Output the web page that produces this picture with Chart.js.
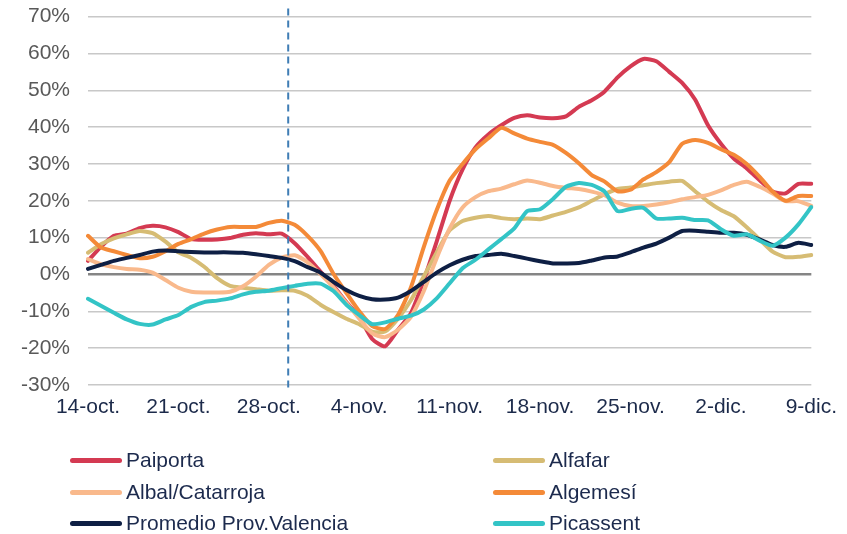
<!DOCTYPE html>
<html><head><meta charset="utf-8">
<script src="https://cdn.jsdelivr.net/npm/chart.js@4.4.1/dist/chart.umd.min.js"></script>
<style>
html,body{margin:0;padding:0;background:#fff;width:847px;height:534px;overflow:hidden;font-family:"Liberation Sans",Arial,sans-serif}
#wrap{position:absolute;left:0;top:-14px;width:847px;height:444px}
#legend{position:absolute;left:0;top:0;width:847px;height:534px;pointer-events:none}
.item{position:absolute;display:flex;align-items:center;font-size:21px;color:#1c2a4d;white-space:nowrap;height:26px;line-height:26px}
.swatch{display:inline-block;width:52px;height:5px;border-radius:3px;margin-right:4px}
</style></head>
<body>
<div id="wrap"><canvas id="c" width="847" height="444"></canvas></div>
<div id="legend"></div>
<script>
const categories = [
 "14-oct.","15-oct.","16-oct.","17-oct.","18-oct.","19-oct.","20-oct.","21-oct.","22-oct.","23-oct.",
 "24-oct.","25-oct.","26-oct.","27-oct.","28-oct.","29-oct.","30-oct.","31-oct.","1-nov.","2-nov.",
 "3-nov.","4-nov.","5-nov.","6-nov.","7-nov.","8-nov.","9-nov.","10-nov.","11-nov.","12-nov.",
 "13-nov.","14-nov.","15-nov.","16-nov.","17-nov.","18-nov.","19-nov.","20-nov.","21-nov.","22-nov.",
 "23-nov.","24-nov.","25-nov.","26-nov.","27-nov.","28-nov.","29-nov.","30-nov.","1-dic.","2-dic.",
 "3-dic.","4-dic.","5-dic.","6-dic.","7-dic.","8-dic.","9-dic."
];
const paiporta = [3.7,7.5,10.5,11.1,12.6,13.2,12.8,11.5,9.6,9.4,9.5,9.9,10.8,11.2,10.9,11.1,8.5,4.8,0.8,-3.1,-7.5,-11.5,-17.5,-19.5,-15,-10.5,-1.5,9,20,28.5,34.5,38,40.5,42.5,43.2,42.6,42.4,42.9,45.5,47.3,49.7,53.5,56.5,58.5,57.9,55,52,47.5,40.5,35.5,31.5,28.8,25.6,22.5,22,24.6,24.6];
const alfafar = [5.9,8.2,9.8,10.9,11.8,11.2,8.9,6.0,4.5,2.1,-1.0,-3.1,-3.6,-4.0,-4.4,-4.3,-4.4,-5.8,-8.2,-10.2,-12,-13.5,-15.5,-15.5,-12,-7,-0.5,6,12,14.5,15.4,15.9,15.3,15,15.2,15,16,17,18.2,20,21.8,23.2,23.6,24.2,24.8,25.2,25.4,22.6,19.8,17.5,15.8,12.8,9.5,6.2,4.7,4.8,5.3];
const albalCatarroja = [4.2,2.8,2.0,1.5,1.3,0.5,-1.5,-3.6,-4.7,-4.9,-4.9,-4.7,-3.2,-0.6,2.6,4.6,5.2,3.3,0.1,-3.5,-7.7,-12,-16,-17,-15,-11.5,-4.5,4.5,12.5,18.2,21,22.6,23.3,24.5,25.5,24.9,24,23.5,23.2,22.5,21.5,19.5,18.6,18.6,19,19.6,20.4,21,21.6,22.8,24.3,25.2,23.8,22,19.9,19.9,18.6];
const algemesi = [10.5,7.3,6.3,5.3,4.4,4.8,6.3,8.3,9.6,11.1,12.2,12.9,12.9,12.9,14,14.6,13.5,10.5,6.4,0.2,-5,-10,-14,-14.8,-11,-3.5,7.5,17.5,25.5,30,34,37,39.8,38.3,36.9,36,35.2,33,30.2,27,25.2,22.6,23,25.8,27.8,30.5,35.5,36.5,35.7,34,32.5,30,26.5,22.5,20,21.3,21.3];
const promedioValencia = [1.5,2.6,3.7,4.5,5.3,6.2,6.5,6.3,6.1,6.0,6.0,6.0,5.9,5.5,5.0,4.5,3.6,2.0,0.5,-2.0,-4.2,-5.8,-6.7,-6.8,-6.3,-4.5,-2.0,0.5,2.5,4.0,5.0,5.3,5.6,5.0,4.3,3.6,3.0,3.0,3.1,3.8,4.6,4.9,6.0,7.3,8.4,10.0,11.8,11.9,11.6,11.3,11.3,10.8,9.5,8.0,7.5,8.6,8.0];
const picassent = [-6.6,-8.5,-10.4,-12.2,-13.4,-13.6,-12.2,-11.0,-8.8,-7.5,-7.1,-6.5,-5.4,-4.7,-4.4,-3.7,-3.1,-2.5,-2.5,-4.5,-8.2,-11,-13.5,-13,-12,-11.2,-9.5,-6.5,-2.4,1.7,4,6.8,9.6,12.5,17.2,17.7,20.5,23.8,24.8,24.3,22.5,17.2,17.8,18.1,15.2,15.2,15.4,14.8,14.7,12.3,10.5,10.9,9.2,7.8,10,13.6,18.3];
const seriesNames = ["Paiporta","Alfafar","Albal/Catarroja","Algemesí","Promedio Prov.Valencia","Picassent"];
const seriesColors = ["#D43A52","#D6BC74","#F9B98C","#F48A38","#0E1F44","#33C4C6"];
const markerIndex = 15.5; // vertical dashed reference line (29-oct.)

const seriesValues = [paiporta, alfafar, albalCatarroja, algemesi, promedioValencia, picassent];

const datasets = seriesNames.map((n,i)=>({
  label:n, data:seriesValues[i], borderColor:seriesColors[i], backgroundColor:seriesColors[i],
  borderWidth:4, pointRadius:0, tension:0.2, fill:false, order:seriesNames.length-i,
  borderCapStyle:'round', borderJoinStyle:'round'
}));

const eventMarker = {
  id:'eventMarker',
  afterDatasetsDraw(chart){
    const x = chart.scales.x.getPixelForValue(markerIndex);
    const ctx = chart.ctx;
    ctx.save();
    ctx.strokeStyle = '#3F7DB5';
    ctx.lineWidth = 2;
    ctx.setLineDash([7,5]);
    ctx.beginPath();
    ctx.moveTo(x, chart.chartArea.top - 8);
    ctx.lineTo(x, chart.chartArea.bottom + 7);
    ctx.stroke();
    ctx.restore();
  }
};

const chart = new Chart(document.getElementById('c'), {
  type:'line',
  data:{labels:categories, datasets},
  options:{
    responsive:false, animation:false,
    layout:{padding:{top:1,right:35,left:0,bottom:0}},
    plugins:{legend:{display:false}, tooltip:{enabled:false}},
    scales:{
      x:{
        offset:false,
        grid:{display:false, drawTicks:false},
        border:{display:false},
        ticks:{autoSkip:false, maxRotation:0, minRotation:0, padding:10, color:'#1c2a4a',
          font:{family:'"Liberation Sans", Arial, sans-serif', size:21},
          callback:(v,i)=> i%7===0 ? categories[i] : ''},
        afterFit:(s)=>{ s.height = 45; }
      },
      y:{
        min:-30, max:70,
        border:{display:false},
        grid:{drawTicks:false,
          color:(c)=> c.tick && c.tick.value===0 ? '#858585' : '#c8c8c8',
          lineWidth:(c)=> c.tick && c.tick.value===0 ? 2.5 : 1.5},
        ticks:{stepSize:10, padding:18, color:'#595959',
          font:{family:'"Liberation Sans", Arial, sans-serif', size:21},
          callback:(v)=> v + '%'},
        afterFit:(s)=>{ s.width = 88; }
      }
    }
  },
  plugins:[eventMarker]
});

// HTML legend, two columns, row-wise order
const legend = document.getElementById('legend');
const colX = [70, 493];
const rowY = [460, 492, 523];
chart.data.datasets.forEach((ds,i)=>{
  const d = document.createElement('div');
  d.className = 'item';
  d.style.left = colX[i%2] + 'px';
  d.style.top = (rowY[Math.floor(i/2)] - 13) + 'px';
  const sw = document.createElement('span');
  sw.className = 'swatch';
  sw.style.background = ds.borderColor;
  const t = document.createElement('span');
  t.textContent = ds.label;
  d.appendChild(sw); d.appendChild(t);
  legend.appendChild(d);
});
</script>
</body></html>
